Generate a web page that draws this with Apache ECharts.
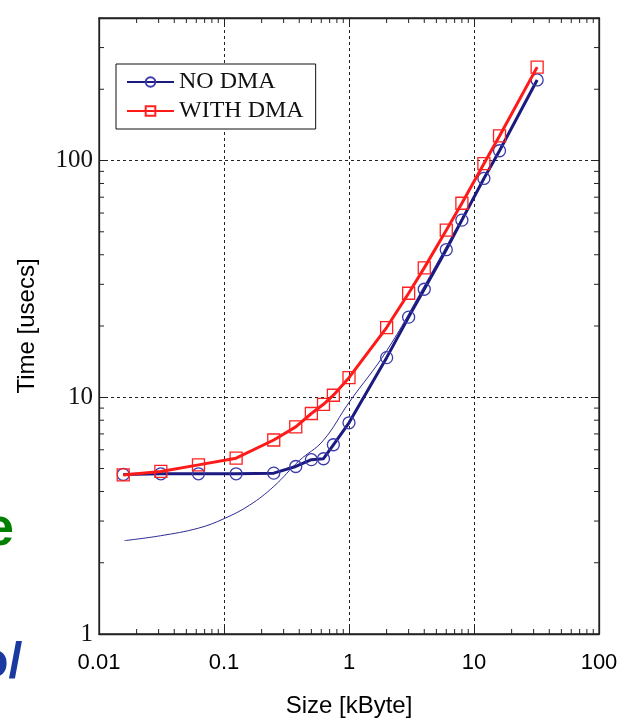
<!DOCTYPE html>
<html>
<head>
<meta charset="utf-8">
<script src="https://cdn.jsdelivr.net/npm/echarts@6/dist/echarts.min.js"></script>
<style>
  html, body { margin: 0; padding: 0; background: #fff; }
  #chart { width: 624px; height: 723px; }
</style>
</head>
<body>
<div id="chart"></div>
<script>
// transfer sizes in kByte
var sizes = [0.015625, 0.03125, 0.0625, 0.125, 0.25, 0.375, 0.5, 0.625, 0.75, 1, 2, 3, 4, 6, 8, 12, 16, 32];
// time in usecs
var noDma = [4.72, 4.75, 4.75, 4.75, 4.78, 5.1, 5.45, 5.5, 6.3, 7.8, 14.7, 21.8, 28.6, 42, 56, 84, 110, 219];
var withDma = [4.7, 4.86, 5.18, 5.53, 6.6, 7.5, 8.54, 9.34, 10.2, 12.1, 19.7, 27.5, 35.2, 50.8, 66, 97, 127, 248];
// thin fitted curve
var fitSizes = [0.016, 0.031, 0.0625, 0.1, 0.16, 0.25, 0.4, 0.62, 1, 2, 4, 8, 16, 32];
var fitTimes = [2.48, 2.6, 2.8, 3.07, 3.5, 4.2, 5.4, 6.55, 9.5, 15.7, 29.5, 57, 111, 219];

var xMinorTicks = [0.02, 0.03, 0.04, 0.05, 0.06, 0.07, 0.08, 0.09,
                   0.2, 0.3, 0.4, 0.5, 0.6, 0.7, 0.8, 0.9,
                   2, 3, 4, 5, 6, 7, 8, 9,
                   20, 30, 40, 50, 60, 70, 80, 90];
var yMinorTicks = [2, 3, 4, 5, 6, 7, 8, 9, 20, 30, 40, 50, 60, 70, 80, 90, 200, 300];

var X_MIN = 0.01, X_MAX = 100, Y_MIN = 1, Y_MAX = 400;

function pairs(xs, ys) {
    return xs.map(function (x, i) { return [x, ys[i]]; });
}

var tickStyle = {stroke: '#222', lineWidth: 1};

function renderXMinor(params, api) {
    var b = api.coord([api.value(0), Y_MIN]);
    var t = api.coord([api.value(0), Y_MAX]);
    return {
        type: 'group',
        children: [
            {type: 'line', shape: {x1: b[0], y1: b[1], x2: b[0], y2: b[1] - 5}, style: tickStyle},
            {type: 'line', shape: {x1: t[0], y1: t[1], x2: t[0], y2: t[1] + 5}, style: tickStyle}
        ]
    };
}

function renderYMinor(params, api) {
    var l = api.coord([X_MIN, api.value(1)]);
    var r = api.coord([X_MAX, api.value(1)]);
    return {
        type: 'group',
        children: [
            {type: 'line', shape: {x1: l[0], y1: l[1], x2: l[0] + 5, y2: l[1]}, style: tickStyle},
            {type: 'line', shape: {x1: r[0], y1: r[1], x2: r[0] - 5, y2: r[1]}, style: tickStyle}
        ]
    };
}

var gridLine = {show: true, lineStyle: {color: '#222', width: 1, type: [3, 3]}};
var axisLine = {show: true, onZero: false, lineStyle: {color: '#222', width: 1.3}};
var majorTick = {show: true, inside: true, length: 8, lineStyle: {color: '#222', width: 1}};

var chart = echarts.init(document.getElementById('chart'));
chart.setOption({
    animation: false,
    backgroundColor: '#fff',
    grid: {left: 99, right: 25, top: 18, bottom: 87, show: true, borderColor: '#222', borderWidth: 1.3},
    legend: {
        data: ['NO DMA', 'WITH DMA'],
        orient: 'vertical',
        left: 116,
        top: 64,
        padding: [6, 12, 6, 10],
        itemGap: 5,
        itemWidth: 47,
        itemHeight: 12,
        borderColor: '#111',
        borderWidth: 1,
        backgroundColor: '#fff',
        textStyle: {fontFamily: 'Liberation Serif', fontSize: 24, color: '#111'}
    },
    xAxis: [{
        type: 'log', logBase: 10, min: X_MIN, max: X_MAX,
        name: 'Size [kByte]', nameLocation: 'middle', nameGap: 60,
        nameTextStyle: {fontFamily: 'Liberation Sans', fontSize: 24, color: '#000'},
        axisLine: axisLine, axisTick: majorTick, splitLine: gridLine,
        axisLabel: {fontFamily: 'Liberation Sans', fontSize: 22, color: '#000', margin: 18}
    }, {
        type: 'log', logBase: 10, min: X_MIN, max: X_MAX, position: 'top',
        axisLine: axisLine, axisTick: majorTick, splitLine: {show: false}, axisLabel: {show: false}
    }],
    yAxis: [{
        type: 'log', logBase: 10, min: Y_MIN, max: Y_MAX,
        name: 'Time [usecs]', nameLocation: 'middle', nameGap: 60, nameRotate: 90,
        nameTextStyle: {fontFamily: 'Liberation Sans', fontSize: 24, color: '#000'},
        axisLine: axisLine, axisTick: majorTick, splitLine: gridLine,
        axisLabel: {fontFamily: 'Liberation Serif', fontSize: 25, color: '#111', margin: 6, showMaxLabel: false}
    }, {
        type: 'log', logBase: 10, min: Y_MIN, max: Y_MAX, position: 'right',
        axisLine: axisLine, axisTick: majorTick, splitLine: {show: false}, axisLabel: {show: false}
    }],
    graphic: [
        {type: 'text', left: -16, top: 503, silent: true,
         style: {text: 'e', fill: '#008000', font: 'bold 54px "Liberation Sans"'}},
        {type: 'text', left: -22, top: 638, silent: true,
         style: {text: 'o/', fill: '#1a3aa0', font: 'bold 50px "Liberation Sans"'}}
    ],
    series: [{
        name: 'fit',
        type: 'line',
        data: pairs(fitSizes, fitTimes),
        smooth: 0.4,
        symbol: 'none',
        silent: true,
        lineStyle: {color: '#2a2a95', width: 1},
        z: 2
    }, {
        name: 'NO DMA',
        type: 'line',
        data: pairs(sizes, noDma),
        symbol: 'circle',
        symbolSize: 12,
        showAllSymbol: true,
        lineStyle: {color: '#1a1a80', width: 3},
        itemStyle: {color: 'rgba(0,0,0,0)', borderColor: '#3a3aaa', borderWidth: 1.3},
        z: 3
    }, {
        name: 'WITH DMA',
        type: 'line',
        data: pairs(sizes, withDma),
        symbol: 'rect',
        symbolSize: 12,
        showAllSymbol: true,
        lineStyle: {color: '#ff1a1a', width: 3},
        itemStyle: {color: 'rgba(0,0,0,0)', borderColor: '#ff2020', borderWidth: 1.3},
        z: 4
    }, {
        type: 'custom',
        renderItem: renderXMinor,
        data: xMinorTicks.map(function (v) { return [v, Y_MIN]; }),
        silent: true,
        clip: false,
        z: 5
    }, {
        type: 'custom',
        renderItem: renderYMinor,
        data: yMinorTicks.map(function (v) { return [X_MIN, v]; }),
        silent: true,
        clip: false,
        z: 5
    }]
});
</script>
</body>
</html>
